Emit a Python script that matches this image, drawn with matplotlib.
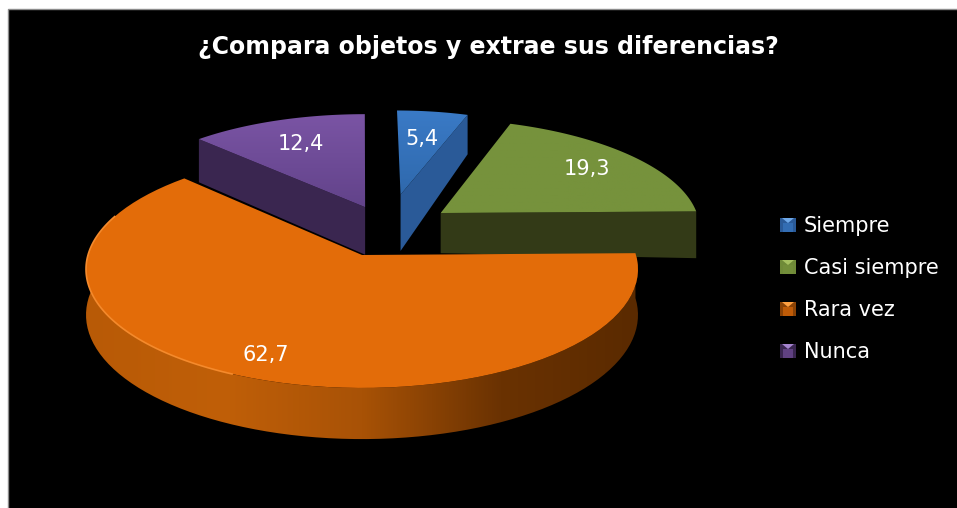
import numpy as np
import matplotlib
matplotlib.use("Agg")
import matplotlib.pyplot as plt
from matplotlib.colors import LinearSegmentedColormap
from matplotlib.patches import Polygon, Rectangle

# --- Data --- #
title = "¿Compara objetos y extrae sus diferencias?"
categories = ["Siempre", "Casi siempre", "Rara vez", "Nunca"]
values = [5.4, 19.3, 62.7, 12.4]
value_labels = ["5,4", "19,3", "62,7", "12,4"]

# --- Style --- #
top_colors = ["#3a7ac6", "#76923c", "#e36c09", "#7a54a4"]
top_colors_2 = ["#2f69ad", "#76923c", "#e36c09", "#62438a"]
side_colors = ["#2a5a98", "#333a17", "#8a4205", "#3a2650"]
legend_light = ["#6fa8e8", "#a5c060", "#ffa040", "#a584cf"]

# disc offset (explosion), radius and label radius of every slice
offsets = [(0.15, 0.55), (0.30, 0.375), (0.0, 0.0), (0.012, 0.43)]
radii = [0.90, 0.977, 1.0, 0.977]
label_r = [0.58, 0.74, 0.84, 0.69]
# wall height at the centre and at the rim of the cut side
wall_drop = [(60, 46), (42, 49), (45, 45), (50, 49)]
draw_order = [3, 0, 1, 2]

CX, CY = 362, 255
RX, RY = 274, 117
K = 0.12
DEPTH = 45


def project(u, v, drop=0.0):
    s = 1 + K * v
    return CX + RX * u / s, CY - RY * v / s + drop / s


def arc(i, t0, t1, r=None, n=80):
    # points on the rim of slice i, angles clockwise from the top in degrees
    t = np.radians(np.linspace(t0, t1, n))
    r = radii[i] if r is None else r
    return offsets[i][0] + r * np.sin(t), offsets[i][1] + r * np.cos(t)


fig = plt.figure(figsize=(9.57, 5.08), dpi=100, facecolor="white")
ax = fig.add_axes([0, 0, 1, 1])
ax.set_xlim(0, 957)
ax.set_ylim(508, 0)
ax.axis("off")
ax.add_patch(Rectangle((7.5, 8.5), 960, 510, fc="black", ec="#8c8c8c", lw=1, zorder=0))

edges = np.cumsum([0] + values) / sum(values) * 360

for z, i in enumerate(draw_order):
    t0, t1 = edges[i], edges[i + 1]
    u, v = arc(i, t0, t1)
    u0, v0 = offsets[i]
    zo = 2 + z

    # outer wall of the big slice, shaded left to right
    if i == 2:
        wu, wv = arc(i, t0, 276)
        xt, yt = project(wu, wv)
        xb, yb = project(wu, wv, DEPTH)
        wall = Polygon(np.r_[np.c_[xt, yt], np.c_[xb, yb][::-1]], closed=True, fc="none", ec="none", zorder=zo)
        ax.add_patch(wall)
        cmap = LinearSegmentedColormap.from_list(
            "wall", ["#b85a06", "#c05f08", "#a85206", "#6a3202", "#5a2a00"]
        )
        im = ax.imshow(np.linspace(0, 1, 256)[None, :], cmap=cmap, extent=(85, 640, 460, 250), aspect="auto", zorder=zo)
        im.set_clip_path(wall)
    else:
        # radial cut wall facing the viewer
        t_wall = t0 if i == 3 else t1
        wu, wv = arc(i, t_wall, t_wall, n=1)
        drop_c, drop_r = wall_drop[i]
        pts = [project(u0, v0), project(wu[0], wv[0]), project(wu[0], wv[0], drop_r), project(u0, v0, drop_c)]
        ax.add_patch(Polygon(pts, closed=True, fc=side_colors[i], ec="none", zorder=zo))

    # top face
    xs, ys = project(np.r_[u0, u], np.r_[v0, v])
    face = Polygon(np.c_[xs, ys], closed=True, fc="none", ec="none", zorder=zo + 0.5)
    ax.add_patch(face)
    cmap = LinearSegmentedColormap.from_list("top", [top_colors[i], top_colors_2[i]])
    im = ax.imshow(
        np.linspace(0, 1, 64)[:, None], cmap=cmap, aspect="auto", zorder=zo + 0.5,
        extent=(xs.min(), xs.max(), ys.max(), ys.min()),
    )
    im.set_clip_path(face)

    # value label
    mid = np.radians((t0 + t1) / 2)
    lx, ly = project(u0 + label_r[i] * np.sin(mid), v0 + label_r[i] * np.cos(mid))
    ax.text(lx, ly, value_labels[i], color="white", fontsize=15, family="DejaVu Sans",
            ha="center", va="center", zorder=20)

    if i == 2:
        hu, hv = arc(i, 205, 290)
        hx, hy = project(hu, hv)
        ax.plot(hx, hy, color="#f58a2c", lw=1.2, zorder=zo + 1)

ax.set_xlim(0, 957)
ax.set_ylim(508, 0)

ax.text(488, 47, title, color="white", fontsize=17, fontweight="bold", family="DejaVu Sans",
        ha="center", va="center", zorder=20)

# --- Legend --- #
for i, name in enumerate(categories):
    y = 225 + i * 42
    ax.add_patch(Rectangle((780, y - 7), 16, 14, fc=side_colors[i] if i != 1 else "#6f8a38", ec="none", zorder=20))
    ax.add_patch(Polygon([(782, y - 7), (794, y - 7), (788, y - 2)], closed=True, fc=legend_light[i], ec="none", zorder=21))
    ax.add_patch(Rectangle((783, y - 2), 10, 9, fc=top_colors[i], ec="none", alpha=0.6, zorder=21))
    ax.text(804, y + 1, name, color="white", fontsize=15, family="DejaVu Sans", ha="left", va="center", zorder=20)

fig.savefig("out.png", dpi=100, facecolor="white")
